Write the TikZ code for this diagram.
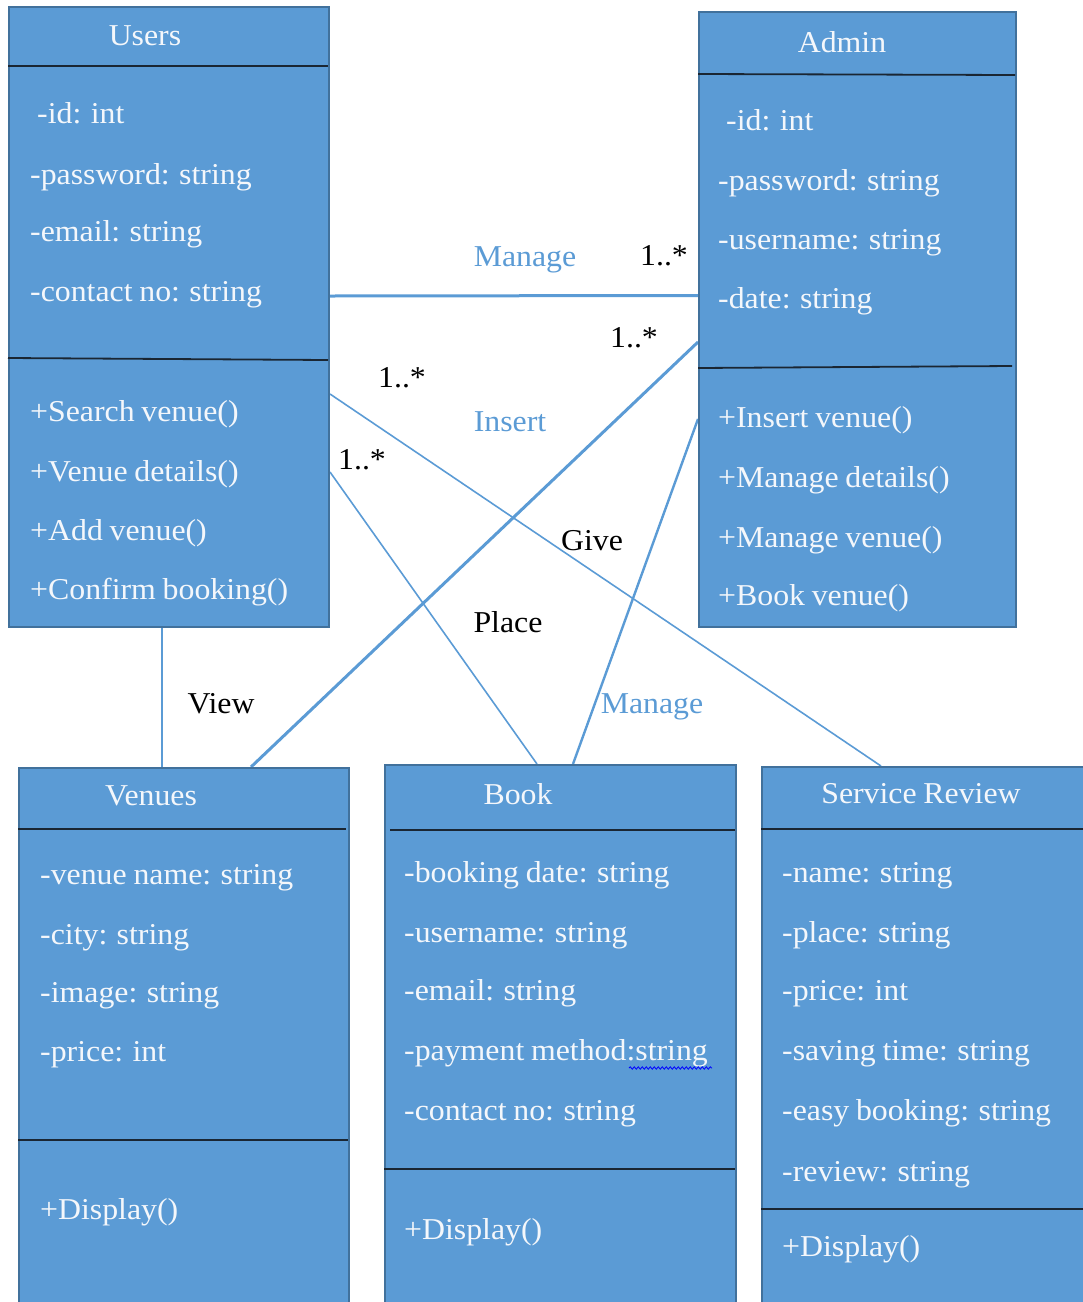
\documentclass[tikz,border=0pt]{standalone}
\usepackage{fontspec}
\setmainfont[FakeStretch=1.05,WordSpace=0.85]{Liberation Serif}
\usetikzlibrary{backgrounds,decorations.pathmorphing}
\definecolor{boxfill}{HTML}{5B9BD5}
\definecolor{boxborder}{HTML}{41719C}
\definecolor{divcol}{HTML}{1A2633}
\definecolor{linecol}{HTML}{5B9BD5}
\definecolor{txtwhite}{HTML}{F4F7FB}
\begin{document}
\begin{tikzpicture}[x=1pt,y=-1pt,
  classbox/.style={draw=boxborder, line width=2pt, fill=boxfill, inner sep=0pt, anchor=north west},
  divline/.style={draw=divcol, line width=1.8pt},
  attr/.style={anchor=mid west, yshift=-7pt, text=txtwhite, font=\fontsize{30.3}{36}\selectfont, inner sep=0pt},
  ctitle/.style={anchor=center, text=txtwhite, font=\fontsize{30.3}{36}\selectfont, inner sep=0pt},
  conn/.style={draw=linecol, line width=3pt},
  connthin/.style={draw=linecol, line width=1.6pt},
  lab/.style={anchor=center, text=black, font=\fontsize{30.3}{36}\selectfont, inner sep=0pt},
  bluelab/.style={lab, text=linecol, yshift=-3pt}]
\clip (0,0) rectangle (1083,1302);
% ---------- Users ----------
\node[classbox, minimum width=320pt, minimum height=620pt] (users) at (8,6) {};
\draw[divline] (8,66) -- (328,66);
\draw[divline] (8,358) -- (328,360);
\node[ctitle] (usersT) at (145,36) {Users};
\node[attr] (u1) at (37,114) {-id: int};
\node[attr] (u2) at (30,175) {-password: string};
\node[attr] (u3) at (30,232) {-email: string};
\node[attr] (u4) at (30,292) {-contact no: string};
\node[attr] (u5) at (30,412) {+Search venue()};
\node[attr] (u6) at (30,472) {+Venue details()};
\node[attr] (u7) at (30,531) {+Add venue()};
\node[attr] (u8) at (30,590) {+Confirm booking()};
% ---------- Admin ----------
\node[classbox, minimum width=317pt, minimum height=615pt] (admin) at (698,11) {};
\draw[divline] (698,74) -- (1015,75);
\draw[divline] (698,368) -- (1012,366);
\node[ctitle] (adminT) at (842,42) {Admin};
\node[attr] (a1) at (726,121) {-id: int};
\node[attr] (a2) at (718,181) {-password: string};
\node[attr] (a3) at (718,240) {-username: string};
\node[attr] (a4) at (718,299) {-date: string};
\node[attr] (a5) at (718,418) {+Insert venue()};
\node[attr] (a6) at (718,478) {+Manage details()};
\node[attr] (a7) at (718,538) {+Manage venue()};
\node[attr] (a8) at (718,596) {+Book venue()};
% ---------- Venues ----------
\node[classbox, minimum width=330pt, minimum height=560pt] (venues) at (18,767) {};
\draw[divline] (18,829) -- (346,829);
\draw[divline] (18,1140) -- (348,1140);
\node[ctitle] (venuesT) at (151,796) {Venues};
\node[attr] (v1) at (40,875) {-venue name: string};
\node[attr] (v2) at (40,935) {-city: string};
\node[attr] (v3) at (40,993) {-image: string};
\node[attr] (v4) at (40,1052) {-price: int};
\node[attr] (v5) at (40,1210) {+Display()};
% ---------- Book ----------
\node[classbox, minimum width=351pt, minimum height=560pt] (book) at (384,764) {};
\draw[divline] (390,830) -- (735,830);
\draw[divline] (384,1169) -- (735,1169);
\node[ctitle] (bookT) at (518,794) {Book};
\node[attr] (b1) at (404,873) {-booking date: string};
\node[attr] (b2) at (404,933) {-username: string};
\node[attr] (b3) at (404,991) {-email: string};
\node[attr] (b4) at (404,1051) {-payment method:string};
\node[attr] (b5) at (404,1111) {-contact no: string};
\node[attr] (b6) at (404,1230) {+Display()};
\draw[blue, line width=0.8pt, decorate, decoration={snake, amplitude=1.2pt, segment length=4pt}] (629,1068) -- (712,1068);
% ---------- Service Review ----------
\node[classbox, minimum width=340pt, minimum height=560pt] (service) at (761,766) {};
\draw[divline] (761,829) -- (1101,829);
\draw[divline] (761,1209) -- (1101,1209);
\node[ctitle] (serviceT) at (921,794) {Service Review};
\node[attr] (s1) at (782,873) {-name: string};
\node[attr] (s2) at (782,933) {-place: string};
\node[attr] (s3) at (782,991) {-price: int};
\node[attr] (s4) at (782,1051) {-saving time: string};
\node[attr] (s5) at (782,1111) {-easy booking: string};
\node[attr] (s6) at (782,1172) {-review: string};
\node[attr] (s7) at (782,1247) {+Display()};
% ---------- Connectors ----------
\begin{scope}[on background layer]
\draw[conn] ([yshift=21pt]users.east) -- ([yshift=24pt]admin.west);
\draw[conn] ([yshift=-22.5pt]admin.west) -- ([xshift=67pt]venues.north);
\draw[connthin] ([yshift=-77pt]users.east) -- ([xshift=-51pt]service.north);
\draw[connthin] ([yshift=-155pt]users.east) -- ([xshift=-23.5pt]book.north);
\draw[conn, line width=2.4pt] ([yshift=-99.5pt]admin.west) -- ([xshift=12.5pt]book.north);
\draw[conn, line width=2.4pt] ([xshift=-7pt]users.south) -- ([xshift=-22pt]venues.north);
\end{scope}
% ---------- Labels ----------
\node[bluelab] (lManage1) at (525,257) {Manage};
\node[lab] (m1) at (664,256) {1..*};
\node[lab] (m2) at (634,338) {1..*};
\node[bluelab] (lInsert) at (510,419) {Insert};
\node[lab] (m3) at (402,378) {1..*};
\node[lab] (m4) at (362,460) {1..*};
\node[lab] (lGive) at (592,541) {Give};
\node[lab] (lPlace) at (508,622) {Place};
\node[bluelab] (lManage2) at (652,704) {Manage};
\node[lab] (lView) at (221,704) {View};
\end{tikzpicture}
\end{document}
